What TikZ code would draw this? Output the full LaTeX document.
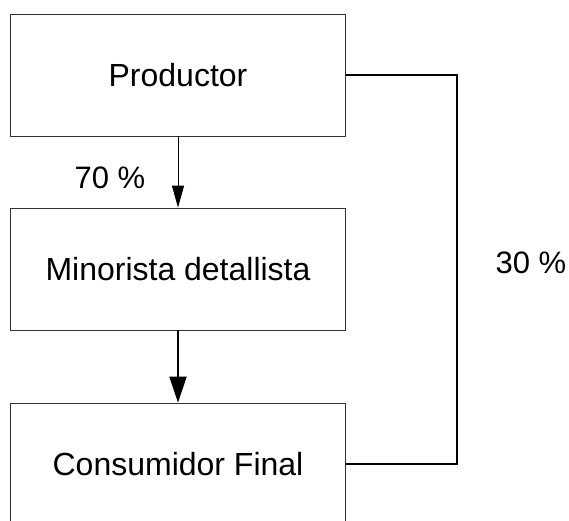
\documentclass[tikz,border=0pt]{standalone}
\usepackage{fontspec}
\setmainfont{Liberation Sans}
\usetikzlibrary{arrows.meta}
\begin{document}
\begin{tikzpicture}[x=1pt,y=-1pt,
  caja/.style={draw=black!80, line width=0.8pt, minimum width=335pt, minimum height=122pt, inner sep=0pt, font=\fontsize{32}{38}\selectfont},
  etiqueta/.style={font=\fontsize{31}{37}\selectfont}]
\def\xc{178}
\useasboundingbox (0,0) rectangle (569,520);
\node (prod) [caja] at (\xc,75) {Productor};
\node (mino) [caja] at (\xc,269) {Minorista detallista};
\node (cons) [caja] at (\xc,464) {Consumidor Final};
\coordinate (codo) at (457,0);
\draw[-{Triangle[length=22pt,width=12pt]}, line width=1pt] (prod) -- (mino);
\draw[-{Triangle[length=26pt,width=17pt]}, line width=2pt] (mino) -- (cons);
\draw[line width=2pt] (prod.east) -- (prod.east -| codo) -- (cons.east -| codo) -- (cons.east);
\node (p70) [etiqueta] at (110,178) {70 \%};
\node (p30) [etiqueta] at (531,263) {30 \%};
\end{tikzpicture}
\end{document}
